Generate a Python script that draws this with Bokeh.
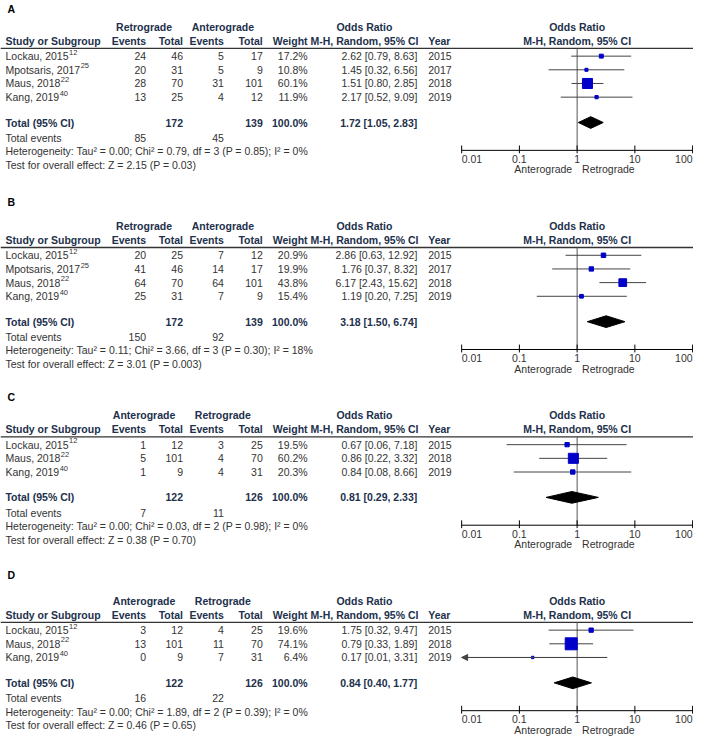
from bokeh.plotting import figure
from bokeh.models import ColumnDataSource, Range1d, LogScale, Arrow, NormalHead
from bokeh.core.properties import value
from bokeh.embed import file_html
from bokeh.resources import INLINE

# ---------------- data ----------------
A_study = ["Lockau, 2015", "Mpotsaris, 2017", "Maus, 2018", "Kang, 2019"]
A_ref = ["12", "25", "22", "40"]
A_groups = ["Retrograde", "Anterograde"]
A_e1 = [24, 20, 28, 13]
A_n1 = [46, 31, 70, 25]
A_e2 = [5, 5, 31, 4]
A_n2 = [17, 9, 101, 12]
A_weight = [17.2, 10.8, 60.1, 11.9]
A_or = [2.62, 1.45, 1.51, 2.17]
A_lo = [0.79, 0.32, 0.80, 0.52]
A_hi = [8.63, 6.56, 2.85, 9.09]
A_year = [2015, 2017, 2018, 2019]
A_total = [1.72, 1.05, 2.83]
A_het = "Heterogeneity: Tau\u00b2 = 0.00; Chi\u00b2 = 0.79, df = 3 (P = 0.85); I\u00b2 = 0%"
A_test = "Test for overall effect: Z = 2.15 (P = 0.03)"

B_study = ["Lockau, 2015", "Mpotsaris, 2017", "Maus, 2018", "Kang, 2019"]
B_ref = ["12", "25", "22", "40"]
B_groups = ["Retrograde", "Anterograde"]
B_e1 = [20, 41, 64, 25]
B_n1 = [25, 46, 70, 31]
B_e2 = [7, 14, 64, 7]
B_n2 = [12, 17, 101, 9]
B_weight = [20.9, 19.9, 43.8, 15.4]
B_or = [2.86, 1.76, 6.17, 1.19]
B_lo = [0.63, 0.37, 2.43, 0.20]
B_hi = [12.92, 8.32, 15.62, 7.25]
B_year = [2015, 2017, 2018, 2019]
B_total = [3.18, 1.50, 6.74]
B_het = "Heterogeneity: Tau\u00b2 = 0.11; Chi\u00b2 = 3.66, df = 3 (P = 0.30); I\u00b2 = 18%"
B_test = "Test for overall effect: Z = 3.01 (P = 0.003)"

C_study = ["Lockau, 2015", "Maus, 2018", "Kang, 2019"]
C_ref = ["12", "22", "40"]
C_groups = ["Anterograde", "Retrograde"]
C_e1 = [1, 5, 1]
C_n1 = [12, 101, 9]
C_e2 = [3, 4, 4]
C_n2 = [25, 70, 31]
C_weight = [19.5, 60.2, 20.3]
C_or = [0.67, 0.86, 0.84]
C_lo = [0.06, 0.22, 0.08]
C_hi = [7.18, 3.32, 8.66]
C_year = [2015, 2018, 2019]
C_total = [0.81, 0.29, 2.33]
C_het = "Heterogeneity: Tau\u00b2 = 0.00; Chi\u00b2 = 0.03, df = 2 (P = 0.98); I\u00b2 = 0%"
C_test = "Test for overall effect: Z = 0.38 (P = 0.70)"

D_study = ["Lockau, 2015", "Maus, 2018", "Kang, 2019"]
D_ref = ["12", "22", "40"]
D_groups = ["Anterograde", "Retrograde"]
D_e1 = [3, 13, 0]
D_n1 = [12, 101, 9]
D_e2 = [4, 11, 7]
D_n2 = [25, 70, 31]
D_weight = [19.6, 74.1, 6.4]
D_or = [1.75, 0.79, 0.17]
D_lo = [0.32, 0.33, 0.01]
D_hi = [9.47, 1.89, 3.31]
D_year = [2015, 2018, 2019]
D_total = [0.84, 0.40, 1.77]
D_het = "Heterogeneity: Tau\u00b2 = 0.00; Chi\u00b2 = 1.89, df = 2 (P = 0.39); I\u00b2 = 0%"
D_test = "Test for overall effect: Z = 0.46 (P = 0.65)"

TICKS = [0.01, 0.1, 1, 10, 100]
TICK_LABELS = ["0.01", "0.1", "1", "10", "100"]
FAVOURS = ["Anterograde", "Retrograde"]
TOTAL_WEIGHT = "100.0%"

panels = [
    dict(label="A", study=A_study, ref=A_ref, groups=A_groups, e1=A_e1, n1=A_n1, e2=A_e2, n2=A_n2,
         weight=A_weight, orr=A_or, lo=A_lo, hi=A_hi, year=A_year, total=A_total, het=A_het, test=A_test),
    dict(label="B", study=B_study, ref=B_ref, groups=B_groups, e1=B_e1, n1=B_n1, e2=B_e2, n2=B_n2,
         weight=B_weight, orr=B_or, lo=B_lo, hi=B_hi, year=B_year, total=B_total, het=B_het, test=B_test),
    dict(label="C", study=C_study, ref=C_ref, groups=C_groups, e1=C_e1, n1=C_n1, e2=C_e2, n2=C_n2,
         weight=C_weight, orr=C_or, lo=C_lo, hi=C_hi, year=C_year, total=C_total, het=C_het, test=C_test),
    dict(label="D", study=D_study, ref=D_ref, groups=D_groups, e1=D_e1, n1=D_n1, e2=D_e2, n2=D_n2,
         weight=D_weight, orr=D_or, lo=D_lo, hi=D_hi, year=D_year, total=D_total, het=D_het, test=D_test),
]

# ---------------- layout (reference-picture pixel coordinates) ----------------
PANEL_BASE = [0, 204, 398, 588]
LABEL_Y = [9, 206, 406, 589]
X_STUDY, X_E1, X_N1, X_E2, X_N2, X_W = 9, 150, 187, 228, 267, 312
X_G1, X_G2 = 148, 227
X_ORHDR, X_CI, X_YEAR = 369, 422, 433
LX0, LK = 466.5, 57.9          # picture x of OR=0.01, px per decade
VX0, VX1 = 4, 699              # visible picture x span
VY0, VY1 = 0, 756              # visible picture y span
W, H = 693, 738

FONT = value("Liberation Sans")
FSZ = 10.5
FS = "%.1fpx" % FSZ
TXT = "#333333"
HDR = "#22304c"
LINE = "#444444"
BLUE = "#0000c8"

ARIAL = {'L': 556, 'o': 556, 'c': 500, 'k': 500, 'a': 556, 'u': 556, ',': 278, ' ': 278,
         'M': 833, 'p': 556, 't': 278, 's': 500, 'r': 333, 'i': 222, 'K': 667, 'n': 556, 'g': 556}

SX = W / (VX1 - VX0)   # screen px per picture px


def text_w(s):
    # width in picture units of a string drawn at FSZ screen px
    return sum(ARIAL.get(ch, 556) for ch in s) * FSZ / 1000.0 / SX


p = figure(width=W, height=H, x_range=Range1d(VX0, VX1), y_range=Range1d(VY1, VY0),
           x_axis_type=None, y_axis_type=None, toolbar_location=None,
           output_backend="svg", min_border=0)
p.outline_line_color = None


def pic_to_or(px):
    return 10 ** ((px - LX0) / LK - 2)


p.extra_x_ranges = {"or": Range1d(pic_to_or(VX0), pic_to_or(VX1))}
p.extra_x_scales = {"or": LogScale()}


def txt(xs, ys, texts, align="left", bold=False, size=FS, color=TXT, log=False):
    src = ColumnDataSource(dict(x=list(xs), y=list(ys), t=list(texts)))
    kw = dict(x_range_name="or") if log else {}
    p.text(x="x", y="y", text="t", source=src, text_align=align, text_baseline="middle",
           text_font=FONT, text_font_size=size, text_font_style="bold" if bold else "normal",
           text_color=color, **kw)


for k, pan in enumerate(panels):
    b = PANEL_BASE[k]
    n = len(pan["study"])
    rows = [b + 57 + 14 * i for i in range(n)]
    ytot = rows[-1] + 26
    yaxis = ytot + 28.5

    # panel letter
    txt([X_STUDY + 2], [LABEL_Y[k]], [pan["label"]], bold=True, color="black")

    # headers
    h1, h2 = b + 27, b + 41
    txt([X_G1, X_G2, X_ORHDR], [h1] * 3, [pan["groups"][0], pan["groups"][1], "Odds Ratio"],
        align="center", bold=True, color=HDR)
    txt([X_STUDY], [h2], ["Study or Subgroup"], bold=True, color=HDR)
    txt([X_E1, X_N1, X_E2, X_N2, X_W], [h2] * 5, ["Events", "Total", "Events", "Total", "Weight"],
        align="right", bold=True, color=HDR)
    txt([X_ORHDR], [h2], ["M-H, Random, 95% CI"], align="center", bold=True, color=HDR)
    txt([X_YEAR], [h2], ["Year"], bold=True, color=HDR)
    txt([1, 1], [h1, h2], ["Odds Ratio", "M-H, Random, 95% CI"], align="center", bold=True,
        color=HDR, log=True)
    p.segment(x0=[VX0], x1=[VX1], y0=[b + 49], y1=[b + 49], line_color="#333333", line_width=1.3)

    # study rows
    txt([X_STUDY] * n, rows, pan["study"])
    txt([X_STUDY + text_w(s) + 0.5 for s in pan["study"]], [y - 4 for y in rows], pan["ref"],
        size="7.5px")
    txt([X_E1] * n, rows, [str(v) for v in pan["e1"]], align="right")
    txt([X_N1] * n, rows, [str(v) for v in pan["n1"]], align="right")
    txt([X_E2] * n, rows, [str(v) for v in pan["e2"]], align="right")
    txt([X_N2] * n, rows, [str(v) for v in pan["n2"]], align="right")
    txt([X_W] * n, rows, ["%.1f%%" % w for w in pan["weight"]], align="right")
    txt([X_CI] * n, rows, ["%.2f [%.2f, %.2f]" % t for t in zip(pan["orr"], pan["lo"], pan["hi"])],
        align="right")
    txt([X_YEAR] * n, rows, [str(v) for v in pan["year"]])

    # totals
    txt([X_STUDY], [ytot], ["Total (95% CI)"], bold=True, color=HDR)
    txt([X_N1, X_N2, X_W], [ytot] * 3, [str(sum(pan["n1"])), str(sum(pan["n2"])), TOTAL_WEIGHT],
        align="right", bold=True, color=HDR)
    to, tl, th = pan["total"]
    txt([X_CI], [ytot], ["%.2f [%.2f, %.2f]" % (to, tl, th)], align="right", bold=True, color=HDR)
    yev = ytot + 15.5
    txt([X_STUDY], [yev], ["Total events"])
    txt([X_E1, X_E2], [yev] * 2, [str(sum(pan["e1"])), str(sum(pan["e2"]))], align="right")
    txt([X_STUDY], [ytot + 29.5], [pan["het"]])
    txt([X_STUDY], [ytot + 43.5], [pan["test"]])

    # forest: vertical line of no effect
    p.segment(x0=[1], x1=[1], y0=[b + 49], y1=[yaxis], line_color="#555555", line_width=1,
              x_range_name="or")
    # confidence intervals
    amin = TICKS[0]
    seg_lo = [max(l, amin) for l in pan["lo"]]
    src = ColumnDataSource(dict(lo=seg_lo, hi=pan["hi"], y=rows, orr=pan["orr"],
                                sz=[1.5 + 0.142 * w for w in pan["weight"]]))
    p.segment(x0="lo", x1="hi", y0="y", y1="y", source=src, line_color=LINE, line_width=1,
              x_range_name="or")
    for l, h, y in zip(pan["lo"], pan["hi"], rows):
        if l <= amin:
            p.add_layout(Arrow(end=NormalHead(size=6, fill_color=LINE, line_color=LINE),
                               x_start=h, y_start=y, x_end=amin, y_end=y, line_color=LINE,
                               line_width=1, x_range_name="or"))
    p.scatter(x="orr", y="y", size="sz", marker="square", source=src, fill_color=BLUE,
              line_color=BLUE, x_range_name="or")
    # pooled diamond
    p.patch(x=[tl, to, th, to], y=[ytot, ytot - 6, ytot, ytot + 6], fill_color="black",
            line_color="black", x_range_name="or")

    # axis
    p.segment(x0=[TICKS[0]], x1=[TICKS[-1]], y0=[yaxis], y1=[yaxis], line_color="black",
              line_width=1, x_range_name="or")
    p.segment(x0=TICKS, x1=TICKS, y0=[yaxis - 5] * 5, y1=[yaxis + 3] * 5, line_color="black",
              line_width=1, x_range_name="or")
    ylab = ytot + 37.5
    txt(TICKS[:1], [ylab], TICK_LABELS[:1], align="left", log=True)
    txt(TICKS[1:4], [ylab] * 3, TICK_LABELS[1:4], align="center", log=True)
    txt(TICKS[4:], [ylab], TICK_LABELS[4:], align="right", log=True)
    yf = ytot + 48
    gap = 10 ** (5 / LK)
    txt([1 / gap], [yf], [FAVOURS[0]], align="right", log=True)
    txt([gap], [yf], [FAVOURS[1]], align="left", log=True)

open("out.html", "w").write(file_html(p, INLINE))
